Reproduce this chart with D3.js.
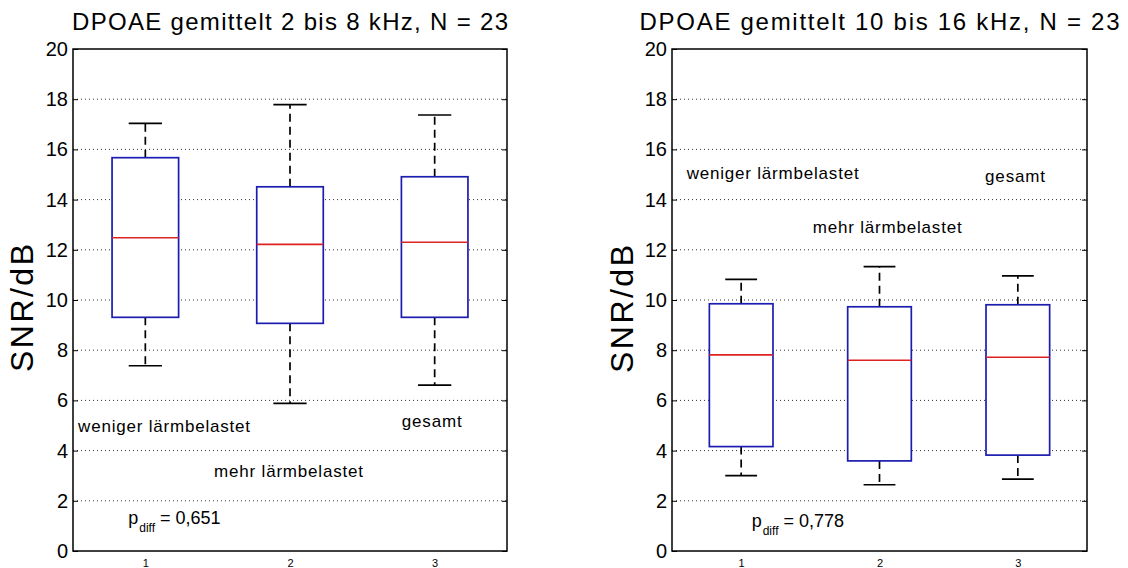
<!DOCTYPE html>
<html>
<head>
<meta charset="utf-8">
<script src="https://cdn.jsdelivr.net/npm/d3@7"></script>
<style>
  body { margin: 0; background: #fff; }
  text { font-family: "Liberation Sans", Arial, Helvetica, sans-serif; }
</style>
</head>
<body>
<div id="chart"></div>
<script>
// Categories, tick labels, texts
var categories = [1, 2, 3];
var yTicks = [0, 2, 4, 6, 8, 10, 12, 14, 16, 18, 20];
var groupNames = ["weniger lärmbelastet", "mehr lärmbelastet", "gesamt"];
var titles = ["DPOAE gemittelt 2 bis 8 kHz, N = 23", "DPOAE gemittelt 10 bis 16 kHz, N = 23"];
var pValues = ["0,651", "0,778"];

// DPOAE 2 bis 8 kHz (box statistics per group)
var lowA = [7.38, 5.88, 6.61];
var q1A = [9.31, 9.07, 9.31];
var medA = [12.48, 12.22, 12.3];
var q3A = [15.67, 14.51, 14.91];
var highA = [17.04, 17.78, 17.37];

// DPOAE 10 bis 16 kHz
var lowB = [3.0, 2.64, 2.86];
var q1B = [4.16, 3.59, 3.82];
var medB = [7.81, 7.6, 7.72];
var q3B = [9.85, 9.73, 9.81];
var highB = [10.82, 11.33, 10.96];

// Figure size
var w = 1128;
var h = 568;
var plotTop = 49;
var plotBottom = 551;
var boxWidth = 0.46; // in category units

// Panel layout: frame edges in px, annotation anchors in data units
var panels = [
  {
    left: 73, right: 507, titleLen: 436, labelX: 33, labelY: 308,
    low: lowA, q1: q1A, med: medA, q3: q3A, high: highA,
    names: [[0.535, 4.74], [1.475, 2.95], [2.772, 4.94]],
    pPos: [0.882, 1.08]
  },
  {
    left: 672, right: 1087, titleLen: 480, labelX: 633, labelY: 309,
    low: lowB, q1: q1B, med: medB, q3: q3B, high: highB,
    names: [[0.606, 14.81], [1.517, 12.68], [2.763, 14.71]],
    pPos: [1.076, 0.96]
  }
];
var nameLen = [172, 149, 60];

var svg = d3
  .select("#chart")
  .append("svg")
  .attr("width", w)
  .attr("height", h);

svg.append("rect").attr("width", w).attr("height", h).attr("fill", "#fff");

panels.forEach(function (p, k) {
  var xScale = d3.scaleLinear().domain([0.5, 3.5]).range([p.left, p.right]);
  var yScale = d3.scaleLinear().domain([0, 20]).range([plotBottom, plotTop]);
  var g = svg.append("g");

  // dotted grid lines
  g.selectAll(".grid")
    .data(yTicks.slice(1, -1))
    .enter()
    .append("line")
    .attr("x1", p.left)
    .attr("x2", p.right)
    .attr("y1", function (d) { return yScale(d); })
    .attr("y2", function (d) { return yScale(d); })
    .attr("stroke", "#333")
    .attr("stroke-width", 1)
    .attr("stroke-dasharray", "1,3");

  // left axis (inward ticks)
  var yAxis = g.append("g")
    .attr("transform", "translate(" + p.left + ",0)")
    .call(d3.axisLeft(yScale).tickValues(yTicks).tickSizeInner(-5).tickSizeOuter(0).tickPadding(5));
  yAxis.select(".domain").remove();
  yAxis.attr("font-size", 20).attr("font-family", null);

  // right axis ticks only
  var yAxisR = g.append("g")
    .attr("transform", "translate(" + p.right + ",0)")
    .call(d3.axisRight(yScale).tickValues(yTicks).tickSizeInner(-5).tickSizeOuter(0).tickFormat(""));
  yAxisR.select(".domain").remove();

  // x axis labels
  var xAxis = g.append("g")
    .attr("transform", "translate(0," + plotBottom + ")")
    .call(d3.axisBottom(xScale).tickValues(categories).tickFormat(d3.format("d")).tickSize(0).tickPadding(8));
  xAxis.select(".domain").remove();
  xAxis.attr("font-size", 11).attr("font-family", null);

  // frame
  g.append("rect")
    .attr("x", p.left)
    .attr("y", plotTop)
    .attr("width", p.right - p.left)
    .attr("height", plotBottom - plotTop)
    .attr("fill", "none")
    .attr("stroke", "#000")
    .attr("stroke-width", 1.5);

  var idx = d3.range(categories.length);
  var half = boxWidth / 2;
  var capHalf = boxWidth / 4;

  // whiskers (dashed)
  g.selectAll(".whiskerHigh")
    .data(idx)
    .enter()
    .append("line")
    .attr("x1", function (i) { return xScale(categories[i]); })
    .attr("x2", function (i) { return xScale(categories[i]); })
    .attr("y1", function (i) { return yScale(p.q3[i]); })
    .attr("y2", function (i) { return yScale(p.high[i]); })
    .attr("stroke", "#000")
    .attr("stroke-width", 1.7)
    .attr("stroke-dasharray", "8,5");

  g.selectAll(".whiskerLow")
    .data(idx)
    .enter()
    .append("line")
    .attr("x1", function (i) { return xScale(categories[i]); })
    .attr("x2", function (i) { return xScale(categories[i]); })
    .attr("y1", function (i) { return yScale(p.q1[i]); })
    .attr("y2", function (i) { return yScale(p.low[i]); })
    .attr("stroke", "#000")
    .attr("stroke-width", 1.7)
    .attr("stroke-dasharray", "8,5");

  // whisker caps
  ["high", "low"].forEach(function (key) {
    g.selectAll(".cap-" + key)
      .data(idx)
      .enter()
      .append("line")
      .attr("x1", function (i) { return xScale(categories[i] - capHalf); })
      .attr("x2", function (i) { return xScale(categories[i] + capHalf); })
      .attr("y1", function (i) { return yScale(p[key][i]); })
      .attr("y2", function (i) { return yScale(p[key][i]); })
      .attr("stroke", "#000")
      .attr("stroke-width", 1.7);
  });

  // boxes
  g.selectAll(".box")
    .data(idx)
    .enter()
    .append("rect")
    .attr("x", function (i) { return xScale(categories[i] - half); })
    .attr("y", function (i) { return yScale(p.q3[i]); })
    .attr("width", function (i) { return xScale(categories[i] + half) - xScale(categories[i] - half); })
    .attr("height", function (i) { return yScale(p.q1[i]) - yScale(p.q3[i]); })
    .attr("fill", "#fff")
    .attr("stroke", "#1c1cb0")
    .attr("stroke-width", 1.7);

  // medians
  g.selectAll(".median")
    .data(idx)
    .enter()
    .append("line")
    .attr("x1", function (i) { return xScale(categories[i] - half); })
    .attr("x2", function (i) { return xScale(categories[i] + half); })
    .attr("y1", function (i) { return yScale(p.med[i]); })
    .attr("y2", function (i) { return yScale(p.med[i]); })
    .attr("stroke", "#dd2222")
    .attr("stroke-width", 1.7);

  // group annotations
  g.selectAll(".name")
    .data(idx)
    .enter()
    .append("text")
    .attr("x", function (i) { return xScale(p.names[i][0]); })
    .attr("y", function (i) { return yScale(p.names[i][1]); })
    .attr("font-size", 17)
    .attr("textLength", function (i) { return nameLen[i]; })
    .attr("lengthAdjust", "spacing")
    .text(function (i) { return groupNames[i]; });

  // p value
  var pt = g.append("text")
    .attr("x", xScale(p.pPos[0]))
    .attr("y", yScale(p.pPos[1]))
    .attr("font-size", 18);
  pt.append("tspan").text("p");
  pt.append("tspan").attr("font-size", 12).attr("dx", 1).attr("dy", 8).text("diff");
  pt.append("tspan").attr("dx", 5).attr("dy", -8).text("= " + pValues[k]);

  // title, centred over the axes
  svg.append("text")
    .attr("x", (p.left + p.right) / 2)
    .attr("y", 30)
    .attr("text-anchor", "middle")
    .attr("font-size", 24)
    .attr("textLength", p.titleLen)
    .attr("lengthAdjust", "spacing")
    .text(titles[k]);

  // y label
  svg.append("text")
    .attr("transform", "translate(" + p.labelX + "," + p.labelY + ") rotate(-90)")
    .attr("text-anchor", "middle")
    .attr("font-size", 32)
    .attr("textLength", 128)
    .attr("lengthAdjust", "spacing")
    .text("SNR/dB");
});
</script>
</body>
</html>
